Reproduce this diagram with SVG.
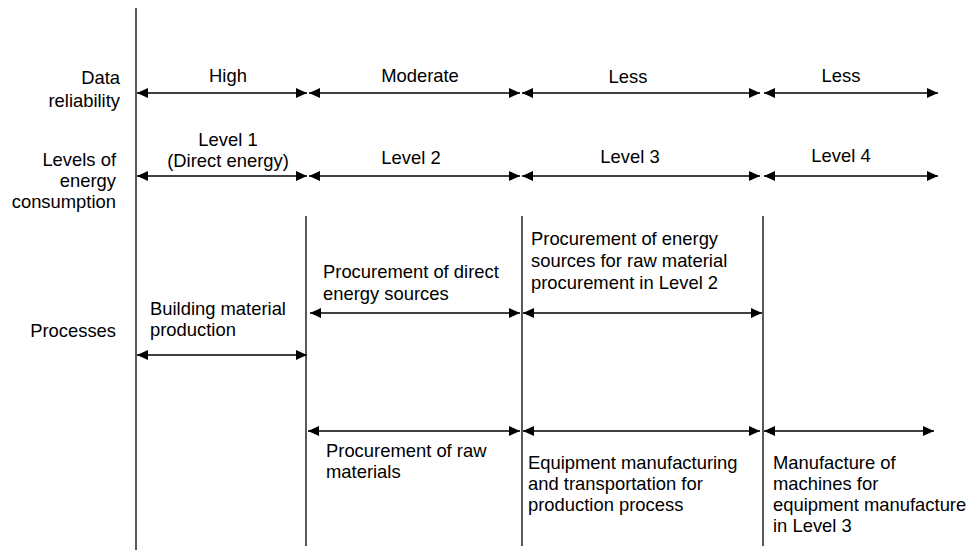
<svg xmlns="http://www.w3.org/2000/svg" width="971" height="551" viewBox="0 0 971 551">
<style>
text{font-family:"Liberation Sans",Arial,sans-serif;font-size:18.4px;fill:#000}
.r{text-anchor:end}
.m{text-anchor:middle}
.v{stroke:#000;stroke-width:1.3;fill:none}
.a{stroke:#000;stroke-width:1.6;fill:none;marker-start:url(#ah);marker-end:url(#ah)}
</style>
<defs>
<marker id="ah" viewBox="0 0 11 10" refX="11" refY="5" markerWidth="11" markerHeight="10" markerUnits="userSpaceOnUse" orient="auto-start-reverse">
<path d="M0,0 L11,5 L0,10 Z" fill="#000"/>
</marker>
</defs>
<g id="row-labels">
<text class="r" x="120" y="84">Data</text>
<text class="r" x="120" y="107">reliability</text>
<text class="r" x="116" y="166">Levels of</text>
<text class="r" x="116" y="187">energy</text>
<text class="r" x="116" y="208">consumption</text>
<text class="r" x="116" y="337">Processes</text>
</g>
<g id="gridlines">
<line class="v" x1="136" y1="8" x2="136" y2="550"/>
<line class="v" x1="306" y1="216" x2="306" y2="546"/>
<line class="v" x1="522" y1="216" x2="522" y2="546"/>
<line class="v" x1="763" y1="216" x2="763" y2="546"/>
</g>
<g id="connectors">
<line class="a" x1="137" y1="93" x2="307" y2="93"/>
<line class="a" x1="309" y1="93" x2="520" y2="93"/>
<line class="a" x1="522" y1="93" x2="760" y2="93"/>
<line class="a" x1="764" y1="93" x2="938" y2="93"/>
<line class="a" x1="137" y1="176" x2="307" y2="176"/>
<line class="a" x1="309" y1="176" x2="520" y2="176"/>
<line class="a" x1="522" y1="176" x2="760" y2="176"/>
<line class="a" x1="764" y1="176" x2="938" y2="176"/>
<line class="a" x1="137" y1="355" x2="307" y2="355"/>
<line class="a" x1="310" y1="313" x2="520" y2="313"/>
<line class="a" x1="523" y1="313" x2="762" y2="313"/>
<line class="a" x1="308" y1="431" x2="520" y2="431"/>
<line class="a" x1="523" y1="431" x2="760" y2="431"/>
<line class="a" x1="764" y1="431" x2="934" y2="431"/>
</g>
<g id="reliability">
<text class="m" x="228" y="82">High</text>
<text class="m" x="420" y="82">Moderate</text>
<text class="m" x="628" y="83">Less</text>
<text class="m" x="841" y="82">Less</text>
</g>
<g id="levels">
<text class="m" x="228" y="146">Level 1</text>
<text class="m" x="228" y="167">(Direct energy)</text>
<text class="m" x="411" y="164">Level 2</text>
<text class="m" x="630" y="163">Level 3</text>
<text class="m" x="841" y="162">Level 4</text>
</g>
<g id="p-building">
<text x="150" y="315">Building material</text>
<text x="150" y="336">production</text>
</g>
<g id="p-direct-energy">
<text x="323" y="278">Procurement of direct</text>
<text x="323" y="300">energy sources</text>
</g>
<g id="p-energy-raw">
<text x="531" y="245">Procurement of energy</text>
<text x="531" y="267">sources for raw material</text>
<text x="531" y="289">procurement in Level 2</text>
</g>
<g id="p-raw">
<text x="326" y="457">Procurement of raw</text>
<text x="326" y="478">materials</text>
</g>
<g id="p-equipment">
<text x="528" y="469">Equipment manufacturing</text>
<text x="528" y="490">and transportation for</text>
<text x="528" y="511">production process</text>
</g>
<g id="p-machines">
<text x="773" y="469">Manufacture of</text>
<text x="773" y="490">machines for</text>
<text x="773" y="511">equipment manufacture</text>
<text x="773" y="532">in Level 3</text>
</g>
</svg>
